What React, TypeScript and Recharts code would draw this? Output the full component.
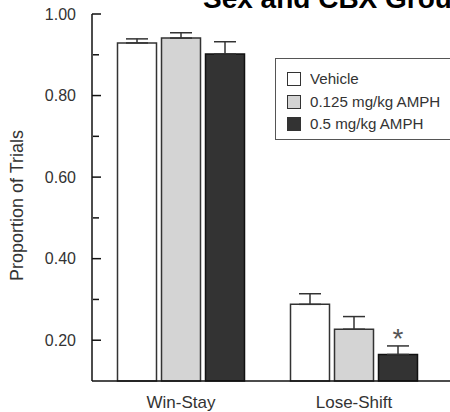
import React from 'react';
import { BarChart, Bar, XAxis, YAxis, ErrorBar, Legend, LabelList } from 'recharts';

const categories = ['Win-Stay', 'Lose-Shift'];
const vehicle = [0.929, 0.288];
const vehicleErr = [0.01, 0.026];
const lowDose = [0.941, 0.227];
const lowDoseErr = [0.013, 0.031];
const highDose = [0.902, 0.165];
const highDoseErr = [0.03, 0.021];
const significance = ['', '*'];
const seriesNames = ['Vehicle', '0.125 mg/kg AMPH', '0.5 mg/kg AMPH'];
const seriesColors = ['#ffffff', '#d4d4d4', '#333333'];
const yTicks = [0.2, 0.3, 0.4, 0.5, 0.6, 0.7, 0.8, 0.9, 1.0];
const yLabelTicks = [0.2, 0.4, 0.6, 0.8, 1.0];
const title = 'Sex and CBX Groups';

const data = categories.map((c, i) => ({
  name: c,
  vehicle: vehicle[i],
  vehicleErr: [0, vehicleErr[i]],
  low: lowDose[i],
  lowErr: [0, lowDoseErr[i]],
  high: highDose[i],
  highErr: [0, highDoseErr[i]],
  sig: significance[i],
}));

const FONT = '"Liberation Sans", Arial, sans-serif';
const AXIS_X = 92;

const YTick = (props: any) => {
  const { y, payload } = props;
  const v = payload.value;
  const major = yLabelTicks.some((t) => Math.abs(t - v) < 1e-6);
  return (
    <g>
      <line x1={major ? AXIS_X : AXIS_X + 1} x2={major ? AXIS_X + 9 : AXIS_X + 7} y1={y} y2={y} stroke="#111" strokeWidth={1.5} />
      {major && (
        <text x={76} y={y} dy="0.36em" textAnchor="end" fontSize={16} fontFamily={FONT} fill="#333">
          {v.toFixed(2)}
        </text>
      )}
    </g>
  );
};

const LegendContent = () => (
  <div
    style={{
      border: '1.5px solid #555',
      background: '#fff',
      width: 200,
      height: 82,
      boxSizing: 'border-box',
      paddingLeft: 11,
      paddingTop: 9,
      fontFamily: FONT,
      fontSize: 14,
      color: '#333',
      textAlign: 'left',
    }}
  >
    {seriesNames.map((n, i) => (
      <div key={n} style={{ display: 'flex', alignItems: 'center', height: 22.5 }}>
        <div
          style={{
            width: 12,
            height: 12,
            border: '1.5px solid #333',
            background: seriesColors[i],
            marginRight: 9,
            flex: 'none',
          }}
        />
        <span style={{ display: 'inline-block', transform: 'scaleX(1.08)', transformOrigin: 'left center', whiteSpace: 'nowrap' }}>{n}</span>
      </div>
    ))}
  </div>
);

const SigLabel = (props: any) => {
  const { x, y, width, value } = props;
  if (!value) return null;
  return (
    <text x={x + width / 2} y={y - 6} textAnchor="middle" fontSize={28} fontFamily={FONT} fill="#555">
      {value}
    </text>
  );
};

const YLabel = (props: any) => {
  const { viewBox } = props;
  const cx = 17;
  const cy = viewBox.y + viewBox.height / 2 + 8;
  return (
    <text x={cx} y={cy} transform={`rotate(-90, ${cx}, ${cy})`} textAnchor="middle" dy="0.36em" fontSize={18} fontFamily={FONT} fill="#333">
      Proportion of Trials
    </text>
  );
};

export default function App() {
  return (
    <div style={{ position: 'absolute', left: 0, top: 0, width: 450, height: 412, overflow: 'hidden', background: '#fff' }}>
      <div
        style={{
          position: 'absolute',
          left: 203,
          top: -14.7,
          fontFamily: FONT,
          fontWeight: 'bold',
          fontSize: 28,
          lineHeight: '28px',
          whiteSpace: 'nowrap',
          color: '#000',
        }}
      >
        {title}
      </div>
      <BarChart
        width={450}
        height={412}
        data={data}
        margin={{ top: 14, right: 0, bottom: 0, left: 0 }}
        barSize={39}
        barGap={5}
      >
        <XAxis
          dataKey="name"
          height={31}
          tickLine={false}
          tickSize={0}
          tickMargin={15}
          padding={{ left: 2.5, right: 9.5 }}
          axisLine={{ stroke: '#111', strokeWidth: 1.5 }}
          tick={{ fontSize: 17, fontFamily: FONT, fill: '#333' }}
        />
        <YAxis
          width={AXIS_X}
          domain={[0.1, 1.0]}
          ticks={yTicks}
          interval={0}
          tickLine={false}
          axisLine={{ stroke: '#111', strokeWidth: 1.5 }}
          tick={<YTick />}
          label={<YLabel />}
        />
        <Legend
          layout="horizontal"
          verticalAlign="middle"
          align="center"
          content={<LegendContent />}
          wrapperStyle={{ position: 'absolute', left: 275, top: 58, width: 200, height: 82 }}
        />
        <Bar dataKey="vehicle" name={seriesNames[0]} fill={seriesColors[0]} stroke="#333" strokeWidth={1.5} isAnimationActive={false}>
          <ErrorBar dataKey="vehicleErr" width={11} stroke="#333" strokeWidth={1.5} direction="y" />
        </Bar>
        <Bar dataKey="low" name={seriesNames[1]} fill={seriesColors[1]} stroke="#333" strokeWidth={1.5} isAnimationActive={false}>
          <ErrorBar dataKey="lowErr" width={11} stroke="#333" strokeWidth={1.5} direction="y" />
        </Bar>
        <Bar dataKey="high" name={seriesNames[2]} fill={seriesColors[2]} stroke="#111" strokeWidth={1.5} isAnimationActive={false}>
          <ErrorBar dataKey="highErr" width={11} stroke="#333" strokeWidth={1.5} direction="y" />
          <LabelList dataKey="sig" content={<SigLabel />} />
        </Bar>
      </BarChart>
    </div>
  );
}
